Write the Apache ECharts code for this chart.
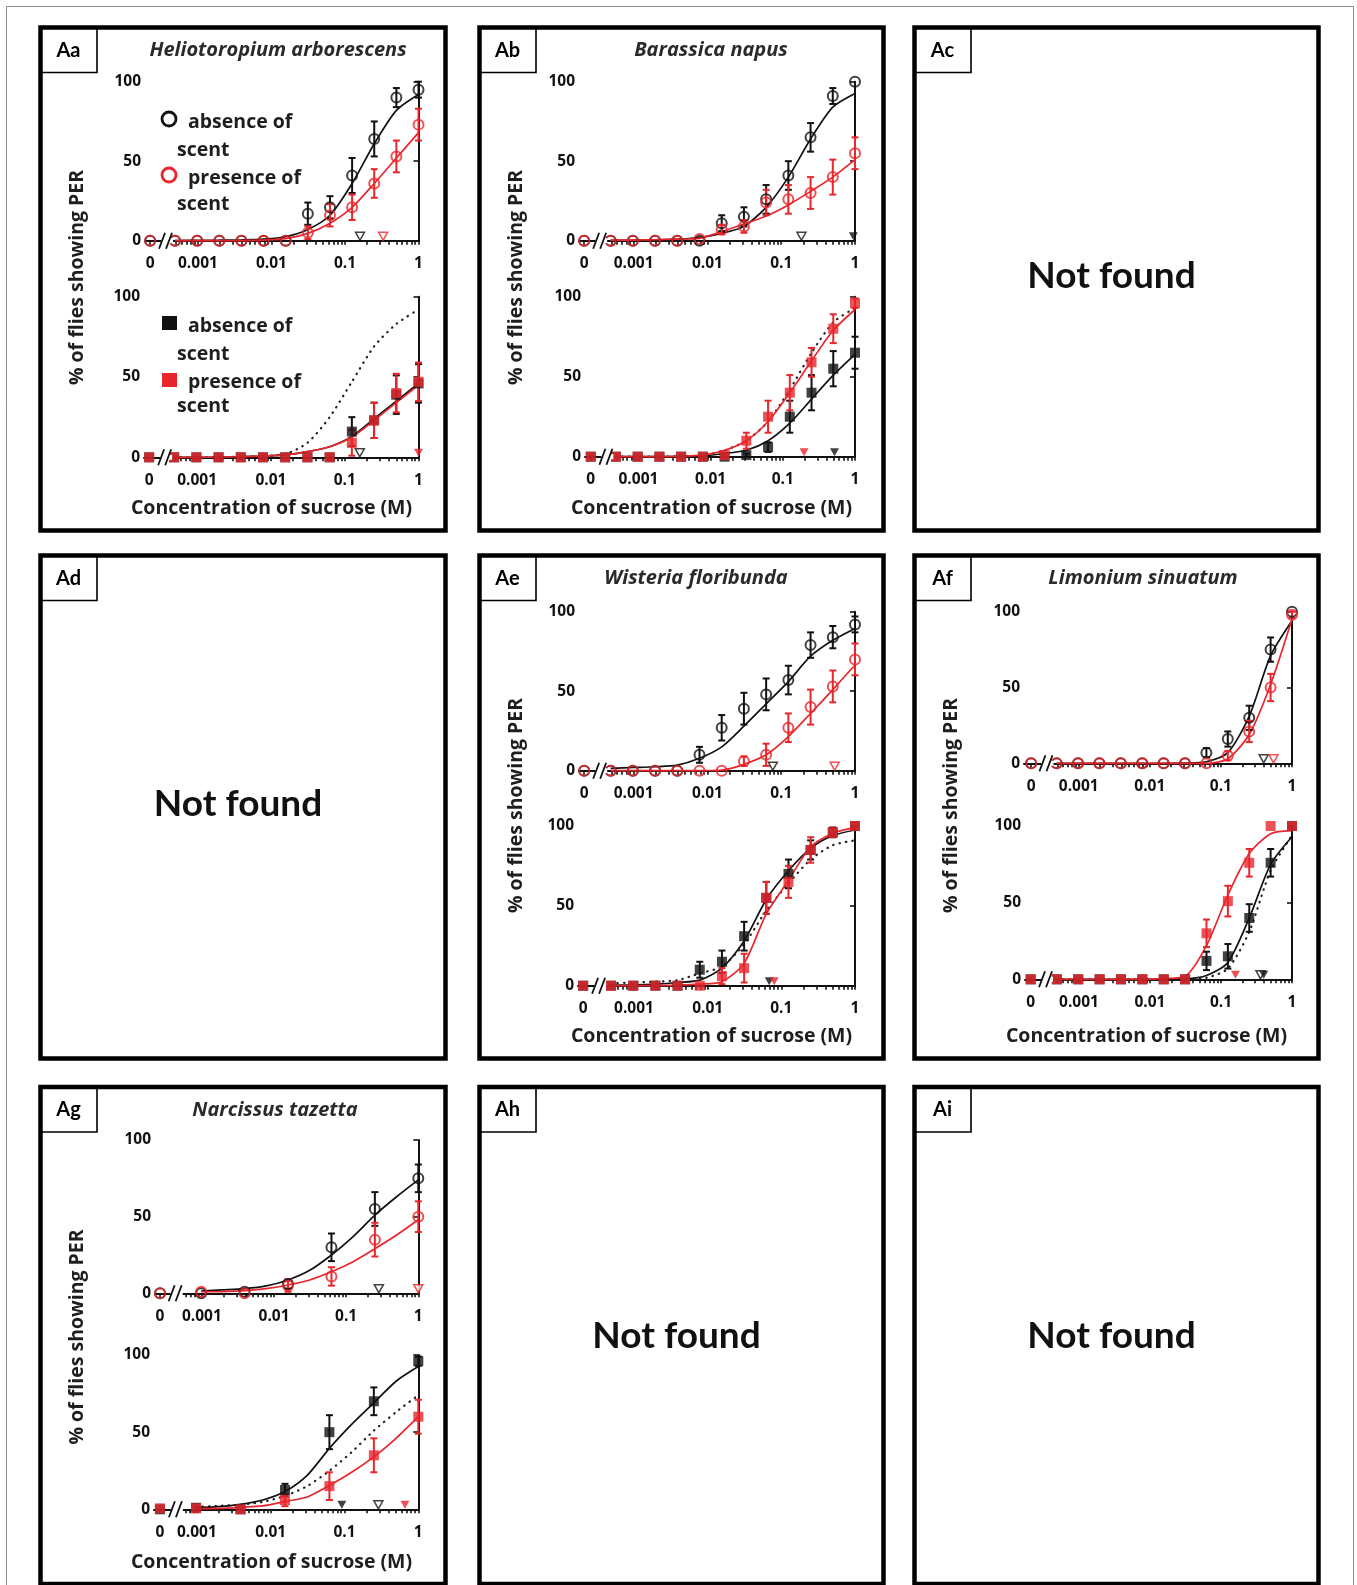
<!DOCTYPE html>
<html lang="en">
<head>
<meta charset="utf-8" />
<title>PER responses to sucrose with and without floral scent</title>
<script src="https://cdn.jsdelivr.net/npm/echarts@6.0.0/dist/echarts.min.js"></script>
<style>
  html, body { margin: 0; background: #fff; }
  #chart { width: 1357px; height: 1585px; }
</style>
</head>
<body>
<div id="chart"></div>
<script>
// sucrose concentrations (M): two-fold series, 0 = water control
var CONC = [0, 1/2048, 1/1024, 1/512, 1/256, 1/128, 1/64, 1/32, 1/16, 1/8, 1/4, 1/2, 1];
var FIT_CONC = CONC.slice(1);
// Narcissus was run on a four-fold series
var CONC_G = [0, 1/1024, 1/256, 1/64, 1/16, 1/4, 1];
var FIT_CONC_G = [1/1024, 1/512, 1/256, 1/128, 1/64, 1/32, 1/16, 1/8, 1/4, 1/2, 1];
var X_TICK_TEXT = ['0', '0.001', '0.01', '0.1', '1'];
var X_TICK_LOG = [null, -3, -2, -1, 0]; // first one is the "0" slot

// K = absence of scent (black), R = presence of scent (red); values are % of flies showing PER
// Aa  Heliotropium
var aaTopK    = [0, 0, 0, 0, 0, 0, 0, 17, 21, 41, 64, 90, 95];
var aaTopKErr = [0, 0, 0, 0, 0, 0, 0, 7, 7, 11, 11, 6, 5];
var aaTopR    = [0, 0, 0, 0, 0, 0, 0, 5, 16, 21, 36, 53, 73];
var aaTopRErr = [0, 0, 0, 0, 0, 0, 0, 4, 7, 8, 9, 10, 10];
var aaTopKFit = [0.1, 0.2, 0.3, 0.5, 1, 2.5, 7, 16, 36, 61, 82, 92];
var aaTopRFit = [0, 0, 0, 0.1, 0.4, 1.3, 4.6, 11, 21, 36, 52, 68];
var aaTopTri  = { kOpen: [0.16], rOpen: [0.33] };

var aaBotK    = [0, 0, 0, 0, 0, 0, 0, 0, 0, 16, 23, 39, 46];
var aaBotKErr = [0, 0, 0, 0, 0, 0, 0, 0, 0, 9, 11, 12, 12];
var aaBotR    = [0, 0, 0, 0, 0, 0, 0, 0, 0, 9, 23, 40, 47];
var aaBotRErr = [0, 0, 0, 0, 0, 0, 0, 0, 0, 8, 11, 12, 12];
var aaBotKFit = [0, 0, 0.1, 0.3, 0.8, 1.5, 3.5, 6.6, 13, 24, 35, 46];
var aaBotRFit = [0, 0, 0.1, 0.3, 0.8, 1.5, 3.5, 6.6, 12.5, 23, 34, 45];
var aaBotDot  = [0, 0, 0.1, 0.3, 0.8, 2, 9, 25, 47, 69, 83, 92];
var aaBotTri  = { kOpen: [0.16], rFill: [1] };

// Ab  Brassica
var abTopK    = [0, 0, 0, 0, 0, 0, 11, 15, 26, 41, 65, 91, 100];
var abTopKErr = [0, 0, 0, 0, 0, 0, 5, 6, 9, 9, 9, 5, 0];
var abTopR    = [0, 0, 0, 0, 0, 1, 7, 9, 24, 26, 30, 40, 55];
var abTopRErr = [0, 0, 0, 0, 0, 0, 3, 4, 8, 9, 10, 11, 10];
var abTopKFit = [0.2, 0.3, 0.5, 1, 2, 4.6, 9, 21, 40, 64, 84, 92.6];
var abTopRFit = [0.3, 0.4, 0.6, 1, 1.5, 5.7, 10.5, 15.5, 22.5, 31, 40, 51];
var abTopTri  = { kOpen: [0.188], kFill: [0.95] };

var abBotK    = [0, 0, 0, 0, 0, 0, 0, 1, 6, 25, 40, 55, 65];
var abBotKErr = [0, 0, 0, 0, 0, 0, 0, 1, 3, 10, 11, 11, 10];
var abBotR    = [0, 0, 0, 0, 0, 0, 1, 10, 25, 40, 59, 80, 96];
var abBotRErr = [0, 0, 0, 0, 0, 0, 1, 5, 10, 11, 9, 9, 3];
var abBotKFit = [0, 0, 0, 0.2, 0.6, 2, 4, 10, 21, 36, 51, 64];
var abBotRFit = [0, 0, 0, 0.3, 1, 4, 10, 22, 40, 60, 79, 92];
var abBotDot  = [0, 0, 0, 0.3, 1, 4, 10, 22, 42, 65, 84, 93];
var abBotTri  = { rFill: [0.197], kFill: [0.52] };

// Ae  Wisteria
var aeTopK    = [0, 0, 0, 0, 0, 10, 27, 39, 48, 57, 79, 84, 92];
var aeTopKErr = [0, 0, 0, 0, 0, 5, 8, 10, 10, 9, 8, 7, 5];
var aeTopR    = [0, 0, 0, 0, 0, 0, 0, 6, 10, 27, 40, 53, 70];
var aeTopRErr = [0, 0, 0, 0, 0, 0, 0, 3, 7, 9, 11, 10, 10];
var aeTopKFit = [1.5, 2, 2.5, 3.5, 7.8, 15, 28, 42, 56, 72, 82, 89.5];
var aeTopRFit = [0, 0, 0, 0, 0.1, 0.4, 4, 10, 21.5, 36, 51, 66.5];
var aeTopTri  = { kOpen: [0.077], rOpen: [0.53] };

var aeBotK    = [0, 0, 0, 0, 0, 10, 15, 31, 55, 70, 85, 96, 100];
var aeBotKErr = [0, 0, 0, 0, 0, 5, 7, 9, 10, 9, 6, 3, 0];
var aeBotR    = [0, 0, 0, 0, 0, 0, 6, 11, 55, 65, 85, 96, 100];
var aeBotRErr = [0, 0, 0, 0, 0, 0, 5, 9, 10, 10, 8, 3, 0];
var aeBotKFit = [0.3, 0.5, 1, 2, 3.5, 11, 28, 54, 72, 86, 94, 97.5];
var aeBotRFit = [0, 0, 0, 0.3, 1, 2.5, 14, 45, 66, 87, 95.5, 99];
var aeBotDot  = [1.5, 2, 2.5, 3.5, 7.7, 12, 26, 47, 64, 79, 88, 91];
var aeBotTri  = { kFill: [0.0685], rFill: [0.08] };

// Af  Limonium
var afTopK    = [0, 0, 0, 0, 0, 0, 0, 0, 7, 16, 30, 75, 100];
var afTopKErr = [0, 0, 0, 0, 0, 0, 0, 0, 3, 5, 8, 8, 0];
var afTopR    = [0, 0, 0, 0, 0, 0, 0, 0, 0, 5, 21, 50, 98];
var afTopRErr = [0, 0, 0, 0, 0, 0, 0, 0, 0, 3, 7, 9, 2];
var afTopKFit = [0, 0, 0, 0, 0, 0, 0.1, 1, 7, 31, 71, 94];
var afTopRFit = [0, 0, 0, 0, 0, 0, 0, 0, 3, 19, 52, 95];
var afTopTri  = { kOpen: [0.4], rOpen: [0.55] };

var afBotK    = [0, 0, 0, 0, 0, 0, 0, 0, 12, 15, 40, 76, 100];
var afBotKErr = [0, 0, 0, 0, 0, 0, 0, 0, 6, 8, 9, 9, 0];
var afBotR    = [0, 0, 0, 0, 0, 0, 0, 0, 30, 51, 76, 100, 100];
var afBotRErr = [0, 0, 0, 0, 0, 0, 0, 0, 9, 10, 9, 0, 0];
var afBotKFit = [0, 0, 0, 0, 0, 0.1, 0.3, 2.5, 11, 40, 75, 93];
var afBotRFit = [0, 0, 0, 0, 0, 0.5, 2, 22, 55, 82, 95, 97];
var afBotDot  = [0, 0, 0, 0, 0, 0, 0.1, 1, 7, 31, 71, 94];
var afBotTri  = { rFill: [0.16], kOpen: [0.36], kFill: [0.4] };

// Ag  Narcissus (four-fold series)
var agTopK    = [0, 0, 1, 6, 30, 55, 75];
var agTopKErr = [0, 0, 0, 3, 9, 11, 9];
var agTopR    = [0, 1, 0, 5, 11, 35, 50];
var agTopRErr = [0, 0, 0, 4, 6, 11, 10];
var agTopKFit = [1.5, 2.2, 3, 4.8, 8.7, 15, 25, 37, 51, 63, 74];
var agTopRFit = [1, 1.1, 1.7, 3, 5.4, 8.7, 14, 20.6, 29, 38, 48];
var agTopTri  = { kOpen: [0.284], rOpen: [1] };

var agBotK    = [0, 1, 0, 12.5, 50, 70, 96];
var agBotKErr = [0, 0, 0, 4, 11, 9, 3];
var agBotR    = [0.6, 0.6, 0, 6, 15, 35, 60];
var agBotRErr = [0, 0, 0, 4, 9, 11, 11];
var agBotKFit = [1, 1.7, 3.2, 6, 11.5, 22, 39.5, 55, 69, 83, 92.5];
var agBotRFit = [0.4, 0.6, 1.3, 2.2, 5, 8, 15.5, 24, 34, 46, 60];
var agBotDot  = [1.5, 2.2, 3, 4.8, 8.7, 15, 25, 37, 51, 63, 74];
var agBotTri  = { kFill: [0.092], kOpen: [0.288], rFill: [0.66] };

var BLACK = '#111111';
var RED = '#e8262c';
var INK = '#1e1e1e';
var FONT = 'Open Sans';

// one entry per small plot; box = [axis left, top (100 %), x of "1", bottom (0 %)]
var PLOTS = [
  { x: CONC, fx: FIT_CONC, k: aaTopK, ke: aaTopKErr, r: aaTopR, re: aaTopRErr, kf: aaTopKFit, rf: aaTopRFit, tri: aaTopTri, box: [145, 81.7, 418.5, 240.7], xMin: -3.72, zeroAt: -3.65 },
  { x: CONC, fx: FIT_CONC, k: aaBotK, ke: aaBotKErr, r: aaBotR, re: aaBotRErr, kf: aaBotKFit, rf: aaBotRFit, dot: aaBotDot, tri: aaBotTri, filled: true, box: [144, 296.7, 418.5, 457.3], xMin: -3.72, zeroAt: -3.65 },
  { x: CONC, fx: FIT_CONC, k: abTopK, ke: abTopKErr, r: abTopR, re: abTopRErr, kf: abTopKFit, rf: abTopRFit, tri: abTopTri, box: [579, 81.7, 855, 240.7], xMin: -3.74, zeroAt: -3.67 },
  { x: CONC, fx: FIT_CONC, k: abBotK, ke: abBotKErr, r: abBotR, re: abBotRErr, kf: abBotKFit, rf: abBotRFit, dot: abBotDot, tri: abBotTri, filled: true, box: [585, 296.7, 855, 456.7], xMin: -3.74, zeroAt: -3.66 },
  { x: CONC, fx: FIT_CONC, k: aeTopK, ke: aeTopKErr, r: aeTopR, re: aeTopRErr, kf: aeTopKFit, rf: aeTopRFit, tri: aeTopTri, box: [579, 611.7, 855, 770.7], xMin: -3.74, zeroAt: -3.67 },
  { x: CONC, fx: FIT_CONC, k: aeBotK, ke: aeBotKErr, r: aeBotR, re: aeBotRErr, kf: aeBotKFit, rf: aeBotRFit, dot: aeBotDot, tri: aeBotTri, filled: true, box: [578, 826, 855, 985.7], xMin: -3.76, zeroAt: -3.69 },
  { x: CONC, fx: FIT_CONC, k: afTopK, ke: afTopKErr, r: afTopR, re: afTopRErr, kf: afTopKFit, rf: afTopRFit, tri: afTopTri, box: [1024, 611.7, 1292, 763.3], xMin: -3.77, zeroAt: -3.67 },
  { x: CONC, fx: FIT_CONC, k: afBotK, ke: afBotKErr, r: afBotR, re: afBotRErr, kf: afBotKFit, rf: afBotRFit, dot: afBotDot, tri: afBotTri, filled: true, box: [1025, 826, 1292, 979.3], xMin: -3.76, zeroAt: -3.68 },
  { x: CONC_G, fx: FIT_CONC_G, k: agTopK, ke: agTopKErr, r: agTopR, re: agTopRErr, kf: agTopKFit, rf: agTopRFit, tri: agTopTri, box: [155, 1140, 418.3, 1293.3], xMin: -3.65, zeroAt: -3.58 },
  { x: CONC_G, fx: FIT_CONC_G, k: agBotK, ke: agBotKErr, r: agBotR, re: agBotRErr, kf: agBotKFit, rf: agBotRFit, dot: agBotDot, tri: agBotTri, filled: true, box: [154, 1355, 418.3, 1509.3], xMin: -3.58, zeroAt: -3.50 }
];

// panel frames: letters, species, where the figure has a chart
var PANELS = [
  { id: 'Aa', title: 'Heliotoropium arborescens', tx: 278, col: 0, row: 0 },
  { id: 'Ab', title: 'Barassica napus', tx: 711, col: 1, row: 0 },
  { id: 'Ac', col: 2, row: 0 },
  { id: 'Ad', col: 0, row: 1 },
  { id: 'Ae', title: 'Wisteria floribunda', tx: 696, col: 1, row: 1 },
  { id: 'Af', title: 'Limonium sinuatum', tx: 1143, col: 2, row: 1 },
  { id: 'Ag', title: 'Narcissus tazetta', tx: 275, col: 0, row: 2 },
  { id: 'Ah', col: 1, row: 2 },
  { id: 'Ai', col: 2, row: 2 }
];
var COL_X = [40.5, 479.5, 914.5];
var COL_W = [405, 404, 404];
var ROW_Y = [27.5, 555.5, 1087];
var ROW_H = [503, 503, 497];

var TRI_PATH = 'path://M0,0L10,0L5,9Z';

function lx(c, zeroAt) { return c === 0 ? zeroAt : Math.log10(c); }

function near(a, b) { return Math.abs(a - b) < 1e-6; }

function tickValues(p) {
  var out = [p.zeroAt];
  for (var d = -4; d <= 0; d++) {
    for (var k = 1; k <= 9; k++) {
      var v = d + Math.log10(k);
      if (v > p.zeroAt + 0.3 && v < 1e-9) out.push(v);
    }
  }
  return out;
}

function errorBars(color) {
  return function (params, api) {
    var x = api.value(0);
    var lo = api.coord([x, api.value(1)]);
    var hi = api.coord([x, api.value(2)]);
    var st = { stroke: color, lineWidth: 2 };
    return {
      type: 'group',
      children: [
        { type: 'line', shape: { x1: hi[0], y1: hi[1], x2: lo[0], y2: lo[1] }, style: st },
        { type: 'line', shape: { x1: hi[0] - 3.5, y1: hi[1], x2: hi[0] + 3.5, y2: hi[1] }, style: st },
        { type: 'line', shape: { x1: lo[0] - 3.5, y1: lo[1], x2: lo[0] + 3.5, y2: lo[1] }, style: st }
      ]
    };
  };
}

var grid = [], xAxis = [], yAxis = [], series = [];

PLOTS.forEach(function (p, i) {
  var b = p.box;
  var labelVals = X_TICK_LOG.map(function (v) { return v === null ? p.zeroAt : v; });
  grid.push({ left: b[0], top: b[1], width: b[2] - b[0], height: b[3] - b[1] });
  xAxis.push({
    type: 'value', gridIndex: i, min: p.xMin, max: 0,
    axisLine: { onZero: false, lineStyle: { color: BLACK, width: 2 } },
    splitLine: { show: false },
    axisTick: { customValues: tickValues(p), length: 4, lineStyle: { color: BLACK, width: 1.6 } },
    axisLabel: {
      customValues: labelVals, margin: 15,
      fontFamily: FONT, fontWeight: 'bold', fontSize: 15.5, color: BLACK,
      formatter: function (v) {
        for (var j = 0; j < labelVals.length; j++) if (near(v, labelVals[j])) return X_TICK_TEXT[j];
        return '';
      }
    }
  });
  yAxis.push({
    type: 'value', gridIndex: i, min: 0, max: 100, interval: 50,
    axisLine: { show: true, lineStyle: { color: BLACK, width: 2 } },
    axisTick: { show: true, length: 5, lineStyle: { color: BLACK, width: 1.6 } },
    splitLine: { show: false },
    axisLabel: { margin: 4, fontFamily: FONT, fontWeight: 'bold', fontSize: 15.5, color: BLACK }
  });

  function pts(arr) { return p.x.map(function (c, j) { return [lx(c, p.zeroAt), arr[j]]; }); }
  function fit(arr) { return p.fx.map(function (c, j) { return [Math.log10(c), arr[j]]; }); }
  function errs(v, e) {
    var out = [];
    p.x.forEach(function (c, j) { if (e[j] > 0) out.push([lx(c, p.zeroAt), v[j] - e[j], v[j] + e[j]]); });
    return out;
  }
  var common = { xAxisIndex: i, yAxisIndex: i, silent: true, animation: false };
  function add(s) { series.push(Object.assign({}, common, s)); }

  if (p.dot) {
    add({ type: 'line', data: fit(p.dot), smooth: 0.25, showSymbol: false, clip: false, z: 2,
      lineStyle: { color: '#222', width: 2.2, type: [0.5, 6], cap: 'round' } });
  }
  add({ type: 'line', data: fit(p.kf), smooth: 0.25, showSymbol: false, clip: false, z: 2,
    lineStyle: { color: BLACK, width: 1.7 } });
  add({ type: 'line', data: fit(p.rf), smooth: 0.25, showSymbol: false, clip: false, z: 2,
    lineStyle: { color: RED, width: 1.7 } });
  add({ type: 'custom', data: errs(p.k, p.ke), renderItem: errorBars(BLACK), clip: false, z: 3 });
  add({ type: 'custom', data: errs(p.r, p.re), renderItem: errorBars(RED), clip: false, z: 3 });

  var sym = p.filled ? 'rect' : 'circle';
  function markStyle(color) {
    return p.filled ? { color: color } : { color: 'rgba(255,255,255,0)', borderColor: color, borderWidth: 2 };
  }
  add({ type: 'scatter', data: pts(p.k), symbol: sym, symbolSize: 10, clip: false, z: 4, itemStyle: markStyle(BLACK) });
  add({ type: 'scatter', data: pts(p.r), symbol: sym, symbolSize: 10, clip: false, z: 5, itemStyle: markStyle(RED) });

  // EC50 arrows sitting on the x axis
  [['kOpen', BLACK, false], ['kFill', BLACK, true], ['rOpen', RED, false], ['rFill', RED, true]].forEach(function (t) {
    var list = p.tri[t[0]];
    if (!list) return;
    add({
      type: 'scatter', symbol: TRI_PATH, symbolSize: [9, 8], symbolOffset: [0, -4.5], clip: false, z: 6,
      data: list.map(function (c) { return [Math.log10(c), 0]; }),
      itemStyle: t[2] ? { color: t[1] } : { color: '#fff', borderColor: t[1], borderWidth: 1.5 }
    });
  });
});

var chart = echarts.init(document.getElementById('chart'), null, { renderer: 'canvas' });
chart.setOption({
  backgroundColor: '#fff',
  animation: false,
  grid: grid, xAxis: xAxis, yAxis: yAxis, series: series
});

// decorations: frames, captions, axis breaks, legend
var g = [];
g.push({ type: 'rect', shape: { x: 6.5, y: 6.5, width: 1347, height: 1620 }, style: { fill: 'none', stroke: '#8c8c8c', lineWidth: 1 }, z: 50 });

function text(str, x, y, o) {
  g.push({
    type: 'text', x: x, y: y, rotation: o.rot || 0, z: 60,
    style: {
      text: str, fill: o.color || INK, fontSize: o.size, fontWeight: o.weight || 'bold',
      fontStyle: o.italic ? 'italic' : 'normal', fontFamily: o.font || FONT,
      align: o.align || 'center', verticalAlign: 'middle'
    }
  });
}

PANELS.forEach(function (pn) {
  var x = COL_X[pn.col], y = ROW_Y[pn.row], w = COL_W[pn.col], h = ROW_H[pn.row];
  g.push({ type: 'rect', shape: { x: x, y: y, width: w, height: h }, style: { fill: 'none', stroke: '#000', lineWidth: 4.5 }, z: 55 });
  g.push({ type: 'rect', shape: { x: x, y: y, width: 56.5, height: 45 }, style: { fill: '#fff', stroke: '#000', lineWidth: 1.6 }, z: 54 });
  text(pn.id, x + 28, y + 23, { size: 20, font: 'Lato', color: '#000' });
  if (pn.title) {
    text(pn.title, pn.tx, y + 23, { size: 20, italic: true, color: '#2a2a2a' });
    text('% of flies showing PER', x + 37, y + 250, { size: 19.5, rot: Math.PI / 2 });
    text('Concentration of sucrose (M)', x + (pn.col === 0 ? 231 : 232), y + h - 22, { size: 19.5 });
  } else {
    text('Not found', x + w / 2 - 5, y + 249, { size: 37, font: 'Lato', color: '#111' });
  }
});

PLOTS.forEach(function (p, i) {
  var c = chart.convertToPixel({ gridIndex: i }, [p.zeroAt + 0.23, 0]);
  var cx = c[0], cy = c[1];
  g.push({ type: 'rect', shape: { x: cx - 6, y: cy - 2.5, width: 12, height: 5 }, style: { fill: '#fff' }, z: 61 });
  g.push({ type: 'line', shape: { x1: cx - 8, y1: cy + 8, x2: cx - 2, y2: cy - 8 }, style: { stroke: BLACK, lineWidth: 1.8 }, z: 62 });
  g.push({ type: 'line', shape: { x1: cx - 1, y1: cy + 8, x2: cx + 5, y2: cy - 8 }, style: { stroke: BLACK, lineWidth: 1.8 }, z: 62 });
});

// legend of panel Aa
g.push({ type: 'circle', shape: { cx: 169, cy: 119, r: 7 }, style: { fill: 'none', stroke: BLACK, lineWidth: 2.8 }, z: 60 });
text('absence of', 188, 122, { size: 19.5, align: 'left' });
text('scent', 177, 150, { size: 19.5, align: 'left' });
g.push({ type: 'circle', shape: { cx: 169, cy: 175, r: 7 }, style: { fill: 'none', stroke: RED, lineWidth: 2.8 }, z: 60 });
text('presence of', 188, 178, { size: 19.5, align: 'left' });
text('scent', 177, 204, { size: 19.5, align: 'left' });
g.push({ type: 'rect', shape: { x: 162, y: 316, width: 15, height: 14 }, style: { fill: BLACK }, z: 60 });
text('absence of', 188, 326, { size: 19.5, align: 'left' });
text('scent', 177, 354, { size: 19.5, align: 'left' });
g.push({ type: 'rect', shape: { x: 162, y: 373, width: 15, height: 14 }, style: { fill: RED }, z: 60 });
text('presence of', 188, 382, { size: 19.5, align: 'left' });
text('scent', 177, 406, { size: 19.5, align: 'left' });

chart.setOption({ graphic: g });
</script>
</body>
</html>
